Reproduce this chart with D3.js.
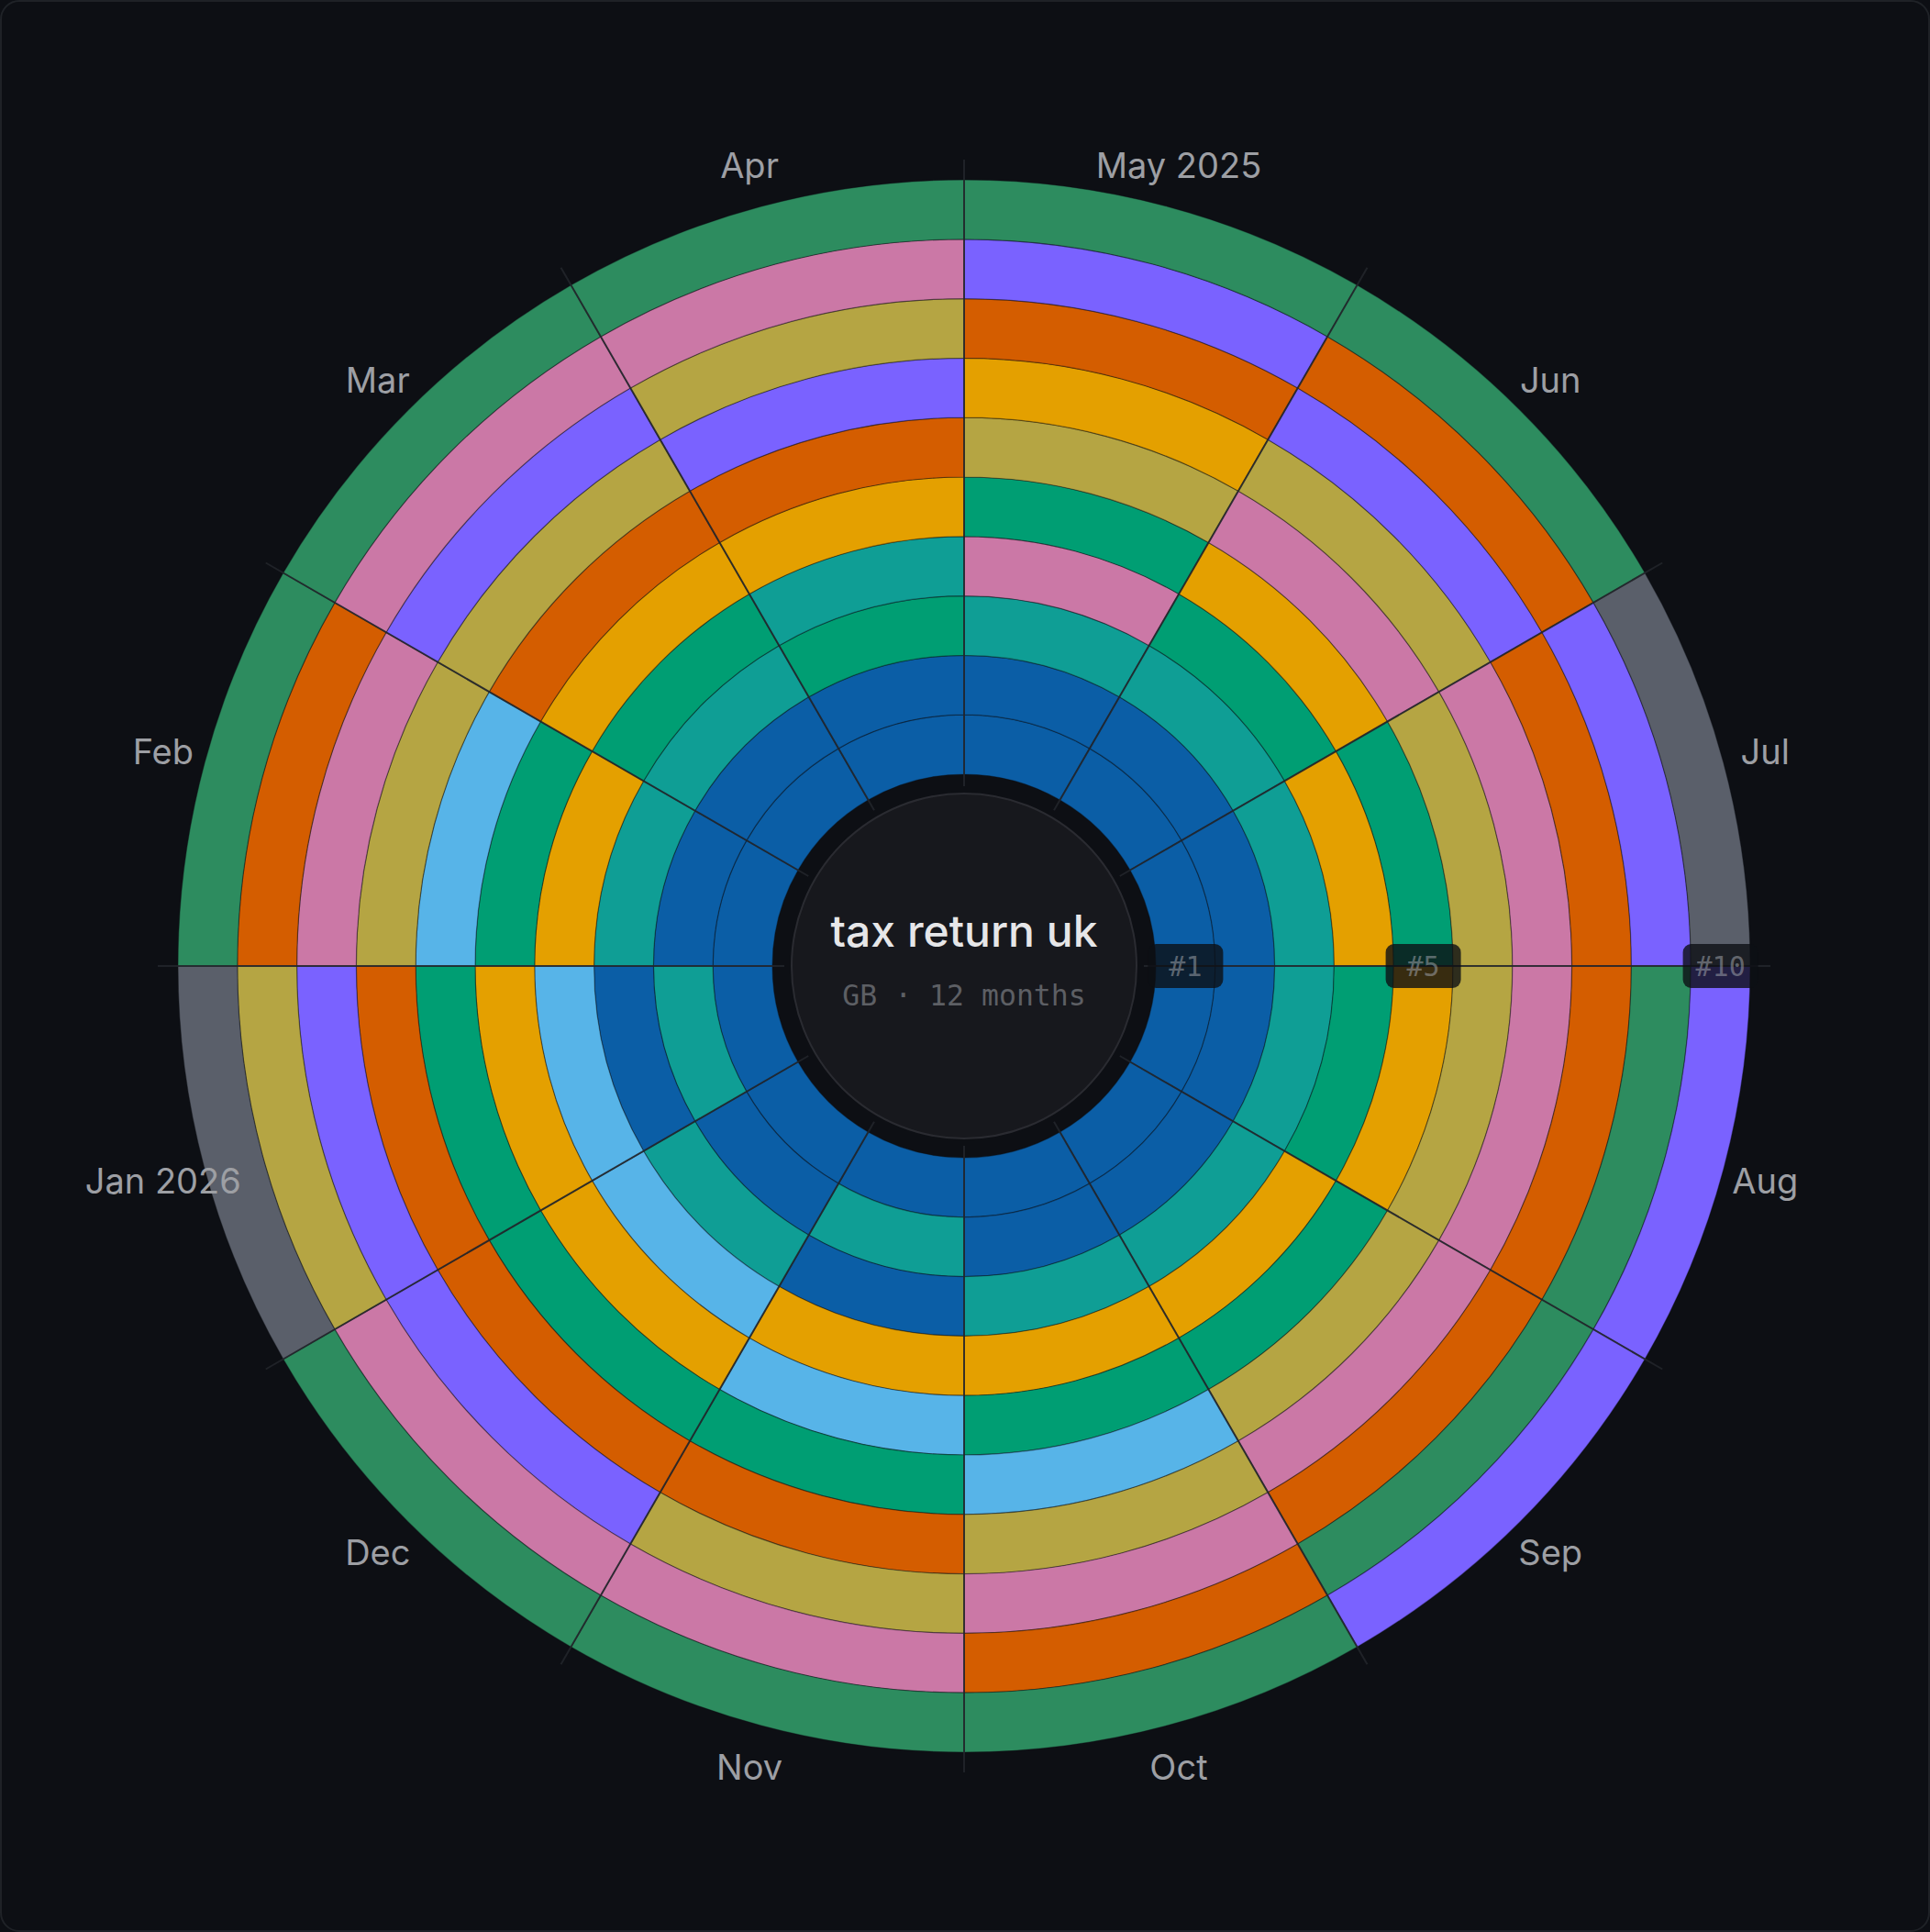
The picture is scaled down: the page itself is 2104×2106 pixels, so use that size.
<!DOCTYPE html>
<html>
<head>
<meta charset="utf-8">
<script src="https://cdn.jsdelivr.net/npm/d3@7"></script>
<style>
  html, body { margin: 0; padding: 0; background: #0d0f14; }
  svg { display: block; }
</style>
</head>
<body>
<svg id="chart" width="2104" height="2106"></svg>
<script>
// ---------- data ----------
const months = ["May 2025","Jun","Jul","Aug","Sep","Oct","Nov","Dec","Jan 2026","Feb","Mar","Apr"];
const ranks = [1,2,3,4,5,6,7,8,9,10];
const categories = ["blue","teal","green","orange","sky","olive","pink","vermillion","purple","seagreen","gray"];
const categoryColors = ["#0b5ea6","#0f9e95","#009e73","#e4a000","#57b4e8","#b5a543","#cb78a6","#d45d00","#7a62ff","#2d8c5f","#5a5f6a"];
// category at each rank (1 = innermost ring) for every month, in month order
const rankings = [
  ["blue","blue","teal","pink","green","olive","orange","vermillion","purple","seagreen"],      // May 2025
  ["blue","blue","teal","green","orange","pink","olive","purple","vermillion","seagreen"],      // Jun
  ["blue","blue","teal","orange","green","olive","pink","vermillion","purple","gray"],          // Jul
  ["blue","blue","teal","green","orange","olive","pink","vermillion","seagreen","purple"],      // Aug
  ["blue","blue","teal","orange","green","olive","pink","vermillion","seagreen","purple"],      // Sep
  ["blue","blue","teal","orange","green","sky","olive","pink","vermillion","seagreen"],         // Oct
  ["blue","teal","blue","orange","sky","green","vermillion","olive","pink","seagreen"],         // Nov
  ["blue","blue","teal","sky","orange","green","vermillion","purple","pink","seagreen"],        // Dec
  ["blue","teal","blue","sky","orange","green","vermillion","purple","olive","gray"],           // Jan 2026
  ["blue","blue","teal","orange","green","sky","olive","pink","vermillion","seagreen"],         // Feb
  ["blue","blue","teal","green","orange","vermillion","olive","purple","pink","seagreen"],      // Mar
  ["blue","blue","green","teal","orange","vermillion","purple","olive","pink","seagreen"]       // Apr
];
const badgeRanks = [1,5,10];
const title = "tax return uk";
const subtitle = "GB · 12 months";

// ---------- layout ----------
const W = 2104, H = 2106;
const cx = 1051, cy = 1053;
const innerR = 209, outerR = 857;

const svg = d3.select("#chart");

svg.append("rect")
  .attr("x", 1).attr("y", 1).attr("width", W - 2).attr("height", H - 2)
  .attr("rx", 20).attr("fill", "#0d0f14").attr("stroke", "#1f2227").attr("stroke-width", 2);

const g = svg.append("g").attr("transform", `translate(${cx},${cy})`);

const angle = d3.scaleBand().domain(months).range([0, 2 * Math.PI]).paddingInner(0).paddingOuter(0);
const radius = d3.scaleBand().domain(ranks).range([innerR, outerR]).paddingInner(0).paddingOuter(0);
const color = d3.scaleOrdinal().domain(categories).range(categoryColors);

const cells = [];
months.forEach((m, i) => {
  rankings[i].forEach((c, j) => cells.push({ month: m, rank: ranks[j], cat: c }));
});

const arc = d3.arc()
  .innerRadius(d => radius(d.rank))
  .outerRadius(d => radius(d.rank) + radius.bandwidth())
  .startAngle(d => angle(d.month))
  .endAngle(d => angle(d.month) + angle.bandwidth());

g.append("g").selectAll("path")
  .data(cells)
  .join("path")
  .attr("d", arc)
  .attr("fill", d => color(d.cat))
  .attr("stroke", "#0d0f14")
  .attr("stroke-opacity", 0.4)
  .attr("stroke-width", 1.2);

// spokes at month boundaries
g.append("g").selectAll("line")
  .data(months)
  .join("line")
  .attr("x1", d => Math.sin(angle(d)) * 196)
  .attr("y1", d => -Math.cos(angle(d)) * 196)
  .attr("x2", d => Math.sin(angle(d)) * 879)
  .attr("y2", d => -Math.cos(angle(d)) * 879)
  .attr("stroke", "#23262c")
  .attr("stroke-opacity", 0.85)
  .attr("stroke-width", 2);

// center disc
g.append("circle").attr("r", 188).attr("fill", "#17181d").attr("stroke", "#2a2b31").attr("stroke-width", 2);

g.append("text")
  .attr("x", 0).attr("y", -21)
  .attr("text-anchor", "middle")
  .attr("font-family", "Inter, 'Noto Sans', sans-serif")
  .attr("font-weight", 500)
  .attr("font-size", 48)
  .attr("fill", "#e6e6e8")
  .text(title);

g.append("text")
  .attr("x", 0).attr("y", 43)
  .attr("text-anchor", "middle")
  .attr("font-family", "'DejaVu Sans Mono', monospace")
  .attr("font-size", 31.5)
  .attr("fill", "#5d5f64")
  .text(subtitle);

// month labels
const labelR = 904;
g.append("g").selectAll("text")
  .data(months)
  .join("text")
  .attr("x", d => Math.sin(angle(d) + angle.bandwidth() / 2) * labelR)
  .attr("y", d => -Math.cos(angle(d) + angle.bandwidth() / 2) * labelR)
  .attr("text-anchor", "middle")
  .attr("dominant-baseline", "central")
  .attr("font-family", "Inter, 'Noto Sans', sans-serif")
  .attr("font-size", 38)
  .attr("fill", "#9d9fa4")
  .text(d => d);

// rank badges on the 3 o'clock axis
const badges = g.append("g").selectAll("g")
  .data(badgeRanks)
  .join("g")
  .attr("transform", d => `translate(${radius(d) + radius.bandwidth() / 2},0)`);

badges.append("rect")
  .attr("x", -41).attr("y", -24).attr("width", 82).attr("height", 48).attr("rx", 9)
  .attr("fill", "#0d0f14").attr("fill-opacity", 0.8);

badges.append("text")
  .attr("text-anchor", "middle")
  .attr("dominant-baseline", "central")
  .attr("font-family", "'DejaVu Sans Mono', monospace")
  .attr("font-size", 30)
  .attr("fill", "#a0a4ab")
  .attr("fill-opacity", 0.55)
  .text(d => "#" + d);
</script>
</body>
</html>
